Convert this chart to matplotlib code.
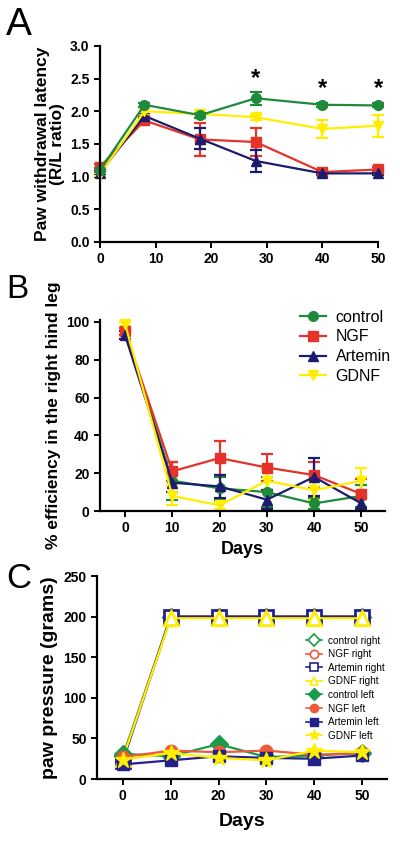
import matplotlib
matplotlib.use("Agg")
import matplotlib.pyplot as plt
from matplotlib.lines import Line2D

plt.rcParams['font.family'] = ['Liberation Sans', 'DejaVu Sans']

# ---------------- data ----------------
groups = ["control", "NGF", "Artemin", "GDNF"]
colors = {"control": "#1f8a3c", "NGF": "#e5332a", "Artemin": "#1c1c6e", "GDNF": "#ffee00"}
markers = {"control": "o", "NGF": "s", "Artemin": "^", "GDNF": "v"}

# Panel A
days_a = [0, 8, 18, 28, 40, 50]
a_control = [1.10, 2.10, 1.94, 2.20, 2.10, 2.09]
a_control_err = [0.03, 0.03, 0.04, 0.10, 0.03, 0.03]
a_ngf = [1.15, 1.86, 1.57, 1.53, 1.07, 1.11]
a_ngf_err = [0.05, 0.06, 0.25, 0.21, 0.03, 0.04]
a_artemin = [1.06, 1.93, 1.58, 1.24, 1.05, 1.05]
a_artemin_err = [0.03, 0.03, 0.16, 0.17, 0.02, 0.02]
a_gdnf = [1.04, 2.00, 1.96, 1.91, 1.73, 1.78]
a_gdnf_err = [0.03, 0.05, 0.06, 0.04, 0.14, 0.17]
a_star_days = [28, 40, 50]
a_star_y = [2.33, 2.17, 2.17]

# Panel B
days_b = [0, 10, 20, 30, 40, 50]
b_control = [95, 16, 12, 10, 4, 8]
b_control_err = [2, 10, 6, 8, 3, 6]
b_ngf = [95, 21, 28, 23, 19, 9]
b_ngf_err = [2, 5, 9, 7, 7, 8]
b_artemin = [93, 15, 13, 6, 18, 4]
b_artemin_err = [2, 5, 6, 5, 10, 3]
b_gdnf = [99, 8, 3, 16, 11, 16]
b_gdnf_err = [1, 5, 2, 6, 5, 7]

# Panel C
days_c = [0, 10, 20, 30, 40, 50]
c_control_right = [28, 200, 200, 200, 200, 200]
c_ngf_right = [25, 200, 200, 200, 200, 200]
c_artemin_right = [22, 200, 200, 200, 200, 200]
c_gdnf_right = [25, 198, 198, 198, 198, 198]
c_control_left = [31, 28, 43, 27, 29, 32]
c_ngf_left = [27, 35, 33, 35, 30, 32]
c_artemin_left = [18, 23, 28, 26, 25, 29]
c_gdnf_left = [24, 32, 26, 23, 35, 33]
c_labels = ["control right", "NGF right", "Artemin right", "GDNF right",
            "control left", "NGF left", "Artemin left", "GDNF left"]

# ---------------- figure ----------------
fig = plt.figure(figsize=(4.0, 8.42), dpi=100)

def style(ax):
    for s in ["top", "right"]:
        ax.spines[s].set_visible(False)
    for s in ["left", "bottom"]:
        ax.spines[s].set_linewidth(1.6)
    ax.tick_params(width=1.4, length=4, labelsize=10, direction='out')
    for lab in ax.get_xticklabels() + ax.get_yticklabels():
        lab.set_fontweight('bold')

# ---- Panel A ----
axA = fig.add_axes([0.25, 0.7126, 0.695, 0.2328])
seriesA = [("NGF", a_ngf, a_ngf_err), ("Artemin", a_artemin, a_artemin_err),
           ("GDNF", a_gdnf, a_gdnf_err), ("control", a_control, a_control_err)]
for g, vals, err in seriesA:
    axA.errorbar(days_a, vals, yerr=err, color=colors[g], marker=markers[g],
                 markersize=7, lw=1.6, elinewidth=1.6, capsize=4, capthick=1.6,
                 clip_on=False)
for d, y in zip(a_star_days, a_star_y):
    axA.text(d, y, "*", ha='center', va='bottom', fontsize=17, fontweight='bold')
axA.set_xlim(0, 50)
axA.set_ylim(0, 3.0)
axA.set_xticks([0, 10, 20, 30, 40, 50])
axA.set_yticks([0.0, 0.5, 1.0, 1.5, 2.0, 2.5, 3.0])
axA.set_yticklabels(["0.0", "0.5", "1.0", "1.5", "2.0", "2.5", "3.0"])
axA.set_ylabel("Paw withdrawal latency\n(R/L ratio)", fontsize=12.5, fontweight='bold',
               linespacing=1.0, labelpad=4)
style(axA)

# ---- Panel B ----
axB = fig.add_axes([0.25, 0.3931, 0.7125, 0.2268])
seriesB = [("control", b_control, b_control_err), ("NGF", b_ngf, b_ngf_err),
           ("Artemin", b_artemin, b_artemin_err), ("GDNF", b_gdnf, b_gdnf_err)]
for g, vals, err in seriesB:
    axB.errorbar(days_b, vals, yerr=err, color=colors[g], marker=markers[g],
                 markersize=7, lw=1.6, elinewidth=1.6, capsize=4, capthick=1.6,
                 label=g, clip_on=False)
axB.set_xlim(-5.3, 55)
axB.set_ylim(0, 101)
axB.set_xticks([0, 10, 20, 30, 40, 50])
axB.set_yticks([0, 20, 40, 60, 80, 100])
axB.set_ylabel("% efficiency in the right hind leg", fontsize=12.5, fontweight='bold',
               labelpad=4)
axB.set_xlabel("Days", fontsize=13, fontweight='bold', labelpad=4)
style(axB)
hB = [Line2D([], [], color=colors[g], marker=markers[g], markersize=7, lw=1.6)
      for g in groups]
fig.legend(hB, groups, loc='upper left', bbox_to_anchor=(0.735, 0.64),
           frameon=False, fontsize=11.5, handlelength=1.6, handletextpad=0.6,
           labelspacing=0.3, borderaxespad=0)

# ---- Panel C ----
axC = fig.add_axes([0.2425, 0.0748, 0.725, 0.2411])
right_series = [(c_control_right, "control", "D"), (c_ngf_right, "NGF", "o"),
                (c_artemin_right, "Artemin", "s"), (c_gdnf_right, "GDNF", "^")]
left_series = [(c_control_left, "control", "D"), (c_ngf_left, "NGF", "o"),
               (c_artemin_left, "Artemin", "s"), (c_gdnf_left, "GDNF", "*")]
c_colors = {"control": "#1a9a4a", "NGF": "#ee5a3a", "Artemin": "#22228a", "GDNF": "#ffee00"}
handlesC = []
for vals, g, m in right_series:
    ms = 10 if m != "D" else 8
    axC.plot(days_c, vals, color=c_colors[g], marker=m, markersize=ms, lw=1.6,
             markerfacecolor='white', markeredgewidth=2, clip_on=False)
    handlesC.append(Line2D([], [], color=c_colors[g], marker=m, markersize=6, lw=1.2,
                           markerfacecolor='white', markeredgewidth=1.2))
for vals, g, m in left_series:
    ms = 12 if m == "*" else 9
    axC.plot(days_c, vals, color=c_colors[g], marker=m, markersize=ms, lw=1.6,
             clip_on=False)
    handlesC.append(Line2D([], [], color=c_colors[g], marker=m,
                           markersize=8 if m == "*" else 6, lw=1.2))
axC.set_xlim(-5.4, 55.2)
axC.set_ylim(0, 250)
axC.set_xticks([0, 10, 20, 30, 40, 50])
axC.set_yticks([0, 50, 100, 150, 200, 250])
axC.set_ylabel("paw pressure (grams)", fontsize=14, fontweight='bold', labelpad=4)
axC.set_xlabel("Days", fontsize=14, fontweight='bold', labelpad=7)
style(axC)
fig.legend(handlesC, c_labels, loc='upper left', bbox_to_anchor=(0.755, 0.25),
           frameon=False, fontsize=7.2, handlelength=1.6, handletextpad=0.6,
           labelspacing=0.36, borderaxespad=0)

# ---- panel letters ----
fig.text(0.015, 0.958, "A", fontsize=28, ha='left', va='baseline')
fig.text(0.015, 0.646, "B", fontsize=24, ha='left', va='baseline')
fig.text(0.015, 0.302, "C", fontsize=25, ha='left', va='baseline')

fig.savefig("out.png", dpi=100)
